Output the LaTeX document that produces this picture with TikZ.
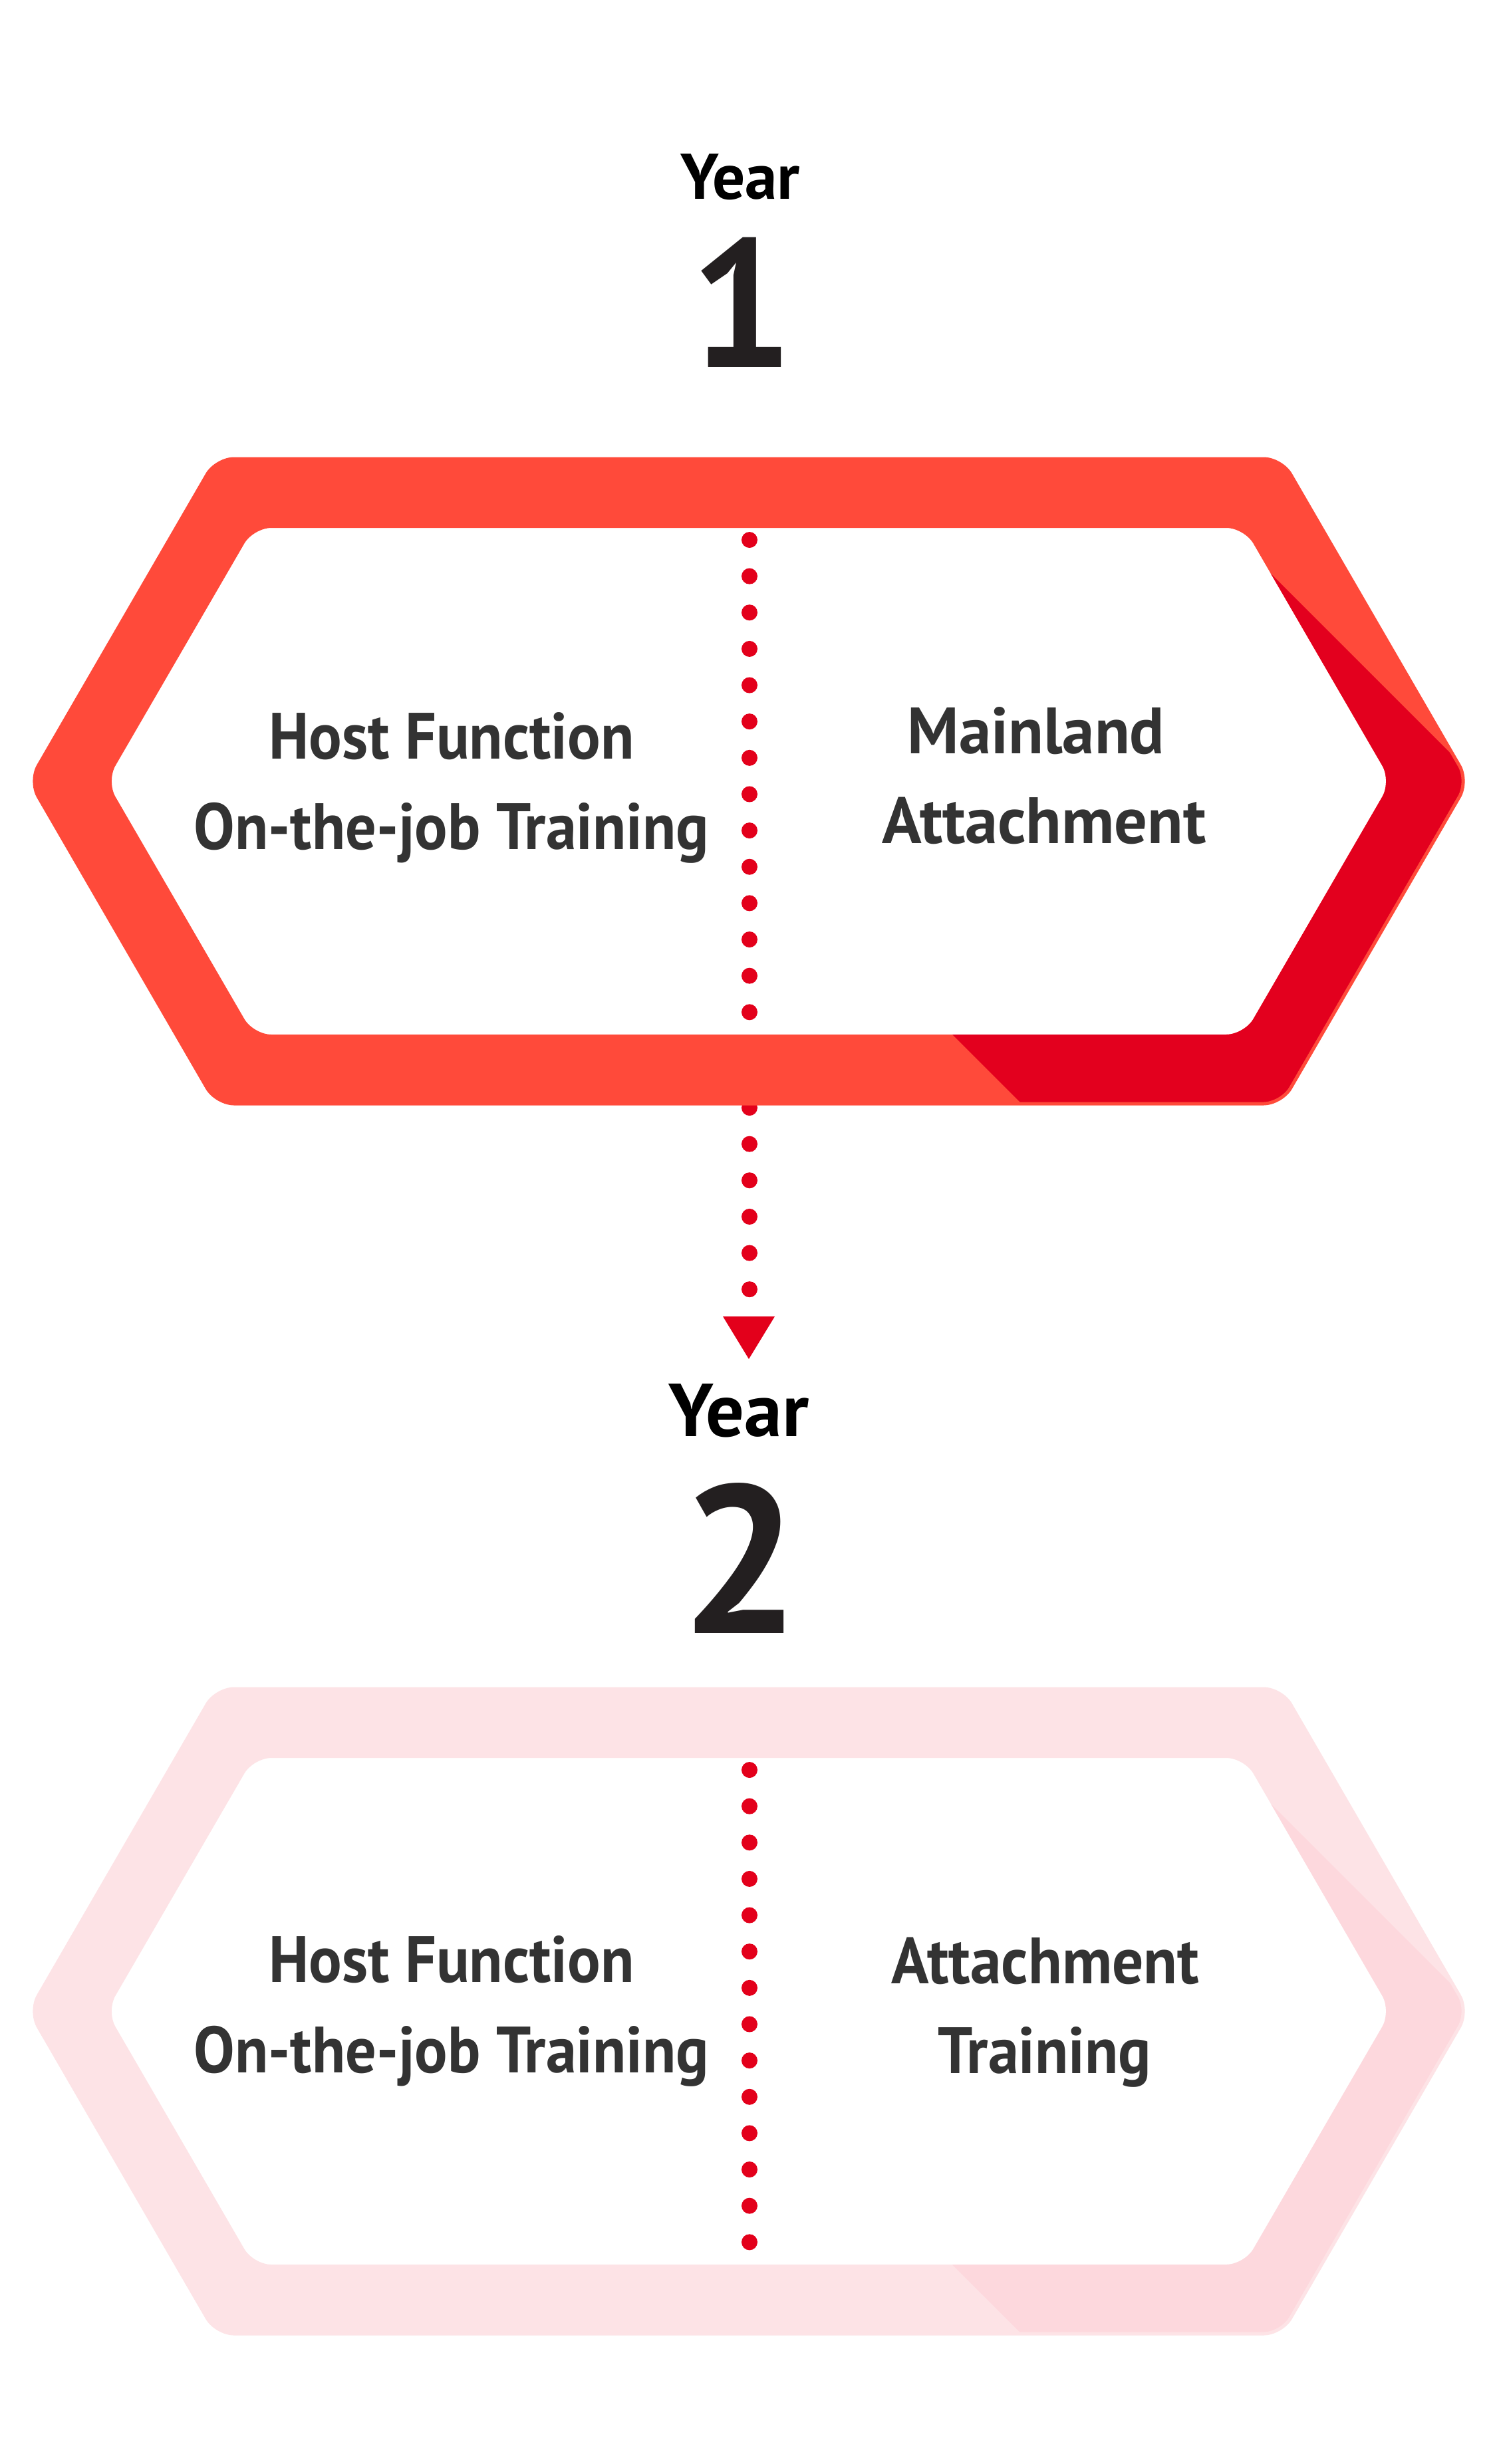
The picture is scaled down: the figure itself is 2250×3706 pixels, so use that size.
\documentclass[tikz,border=0pt]{standalone}
\usepackage{fontspec}
\setmainfont{PT Sans}
\usetikzlibrary{calc}

\definecolor{hexA}{HTML}{FF4A3A}
\definecolor{hexAdark}{HTML}{E3001E}
\definecolor{hexB}{HTML}{FDE3E6}
\definecolor{hexBdark}{HTML}{FDD8DD}
\definecolor{dotred}{HTML}{E3001B}
\definecolor{labelgray}{HTML}{333333}
\definecolor{digitgray}{HTML}{231F20}

% set #2 and stretch it horizontally to the width #1
\newcommand\fitw[2]{\sbox0{#2}\pgfmathsetmacro\fitsx{(#1)/(\the\wd0)}\scalebox{\fitsx}[1]{\usebox0}}

% hexagon band centred on coordinate #1, light colour #2, dark colour #3
\newcommand\hexband[3]{%
  \begin{scope}[shift={(#1)}]
    \fill[#2, even odd rule, rounded corners=0.27cm]
      (0,-485) -- (801,-485) -- (1082,0) -- (801,485) -- (-801,485) -- (-1082,0) -- (-801,-485) -- cycle
      (0,-381) -- (745,-381) -- (966,0) -- (745,381) -- (-745,381) -- (-966,0) -- (-745,-381) -- cycle;
    \begin{scope}
      \clip (774,-323) -- (1124,27) -- (1124,525) -- (450,525) -- (290,365) -- cycle;
      \fill[#3, even odd rule, rounded corners=0.27cm]
        (0,-485) -- (801,-485) -- (1082,0) -- (801,485) -- (-801,485) -- (-1082,0) -- (-801,-485) -- cycle
        (0,-381) -- (745,-381) -- (966,0) -- (745,381) -- (-745,381) -- (-966,0) -- (-745,-381) -- cycle;
    \end{scope}
    \draw[#2, line width=0.05cm, rounded corners=0.27cm]
      (0,-485) -- (801,-485) -- (1082,0) -- (801,485) -- (-801,485) -- (-1082,0) -- (-801,-485) -- cycle;
  \end{scope}}

\tikzset{
  dotline/.style={draw=dotred, line width=0.24cm, line cap=round, dash pattern=on 0.01pt off 0.5457cm},
  lbl/.style={font=\bfseries\fontsize{28pt}{28pt}\selectfont, text=labelgray, anchor=base, inner sep=0pt},
  yearlbl/.style={text=black, anchor=base, inner sep=0pt},
  digitlbl/.style={text=digitgray, anchor=base, inner sep=0pt},
}

\begin{document}
\begin{tikzpicture}[x=0.01cm, y=-0.01cm]
  \fill[white] (0,0) rectangle (2250,3706);
  \useasboundingbox (0,0) rectangle (2250,3706);

  % centres of the two hexagons
  \coordinate (h1) at (1126,1175);
  \coordinate (h2) at (1126,3025);

  % connector from year 1 to year 2
  \coordinate (c1s) at (1127,1666);
  \coordinate (c1e) at (1127,1945);
  \coordinate (tip1) at (1126,2044);
  \draw[dotline] (c1s) -- (c1e);
  \fill[dotred] (tip1) -- ++(-39,-64) -- ++(78,0) -- cycle;

  % hexagons
  \hexband{h1}{hexA}{hexAdark}
  \hexband{h2}{hexB}{hexBdark}

  % dotted dividers
  \coordinate (d1s) at (1127,812);
  \coordinate (d1e) at (1127,1525);
  \coordinate (d2s) at (1127,2662);
  \coordinate (d2e) at (1127,3375);
  \draw[dotline] (d1s) -- (d1e);
  \draw[dotline] (d2s) -- (d2e);

  % titles
  \node[yearlbl, font=\bfseries\fontsize{27.6pt}{28pt}\selectfont] (year1) at (1113.5,300) {\fitw{1.79cm}{Year}};
  \node[digitlbl, font=\bfseries\fontsize{78pt}{80pt}\selectfont] (num1) at (1115,552) {1};
  \node[yearlbl, font=\bfseries\fontsize{32.1pt}{32pt}\selectfont] (year2) at (1111,2160) {\fitw{2.10cm}{Year}};
  \node[digitlbl, font=\bfseries\fontsize{90pt}{92pt}\selectfont] (num2) at (1113,2456) {2};

  % texts of hexagon 1
  \node[lbl] (a1) at (679,1141) {\fitw{5.49cm}{Host Function}};
  \node[lbl] (a2) at (679,1277) {\fitw{7.74cm}{On-the-job Training}};
  \node[lbl] (b1) at (1558,1133) {\fitw{3.86cm}{Mainland}};
  \node[lbl] (b2) at (1570,1268) {\fitw{4.87cm}{Attachment}};

  % texts of hexagon 2
  \node[lbl] (a3) at (679,2981) {\fitw{5.49cm}{Host Function}};
  \node[lbl] (a4) at (679,3117) {\fitw{7.74cm}{On-the-job Training}};
  \node[lbl] (b3) at (1572,2983) {\fitw{4.62cm}{Attachment}};
  \node[lbl] (b4) at (1571,3118) {\fitw{3.20cm}{Training}};
\end{tikzpicture}
\end{document}
